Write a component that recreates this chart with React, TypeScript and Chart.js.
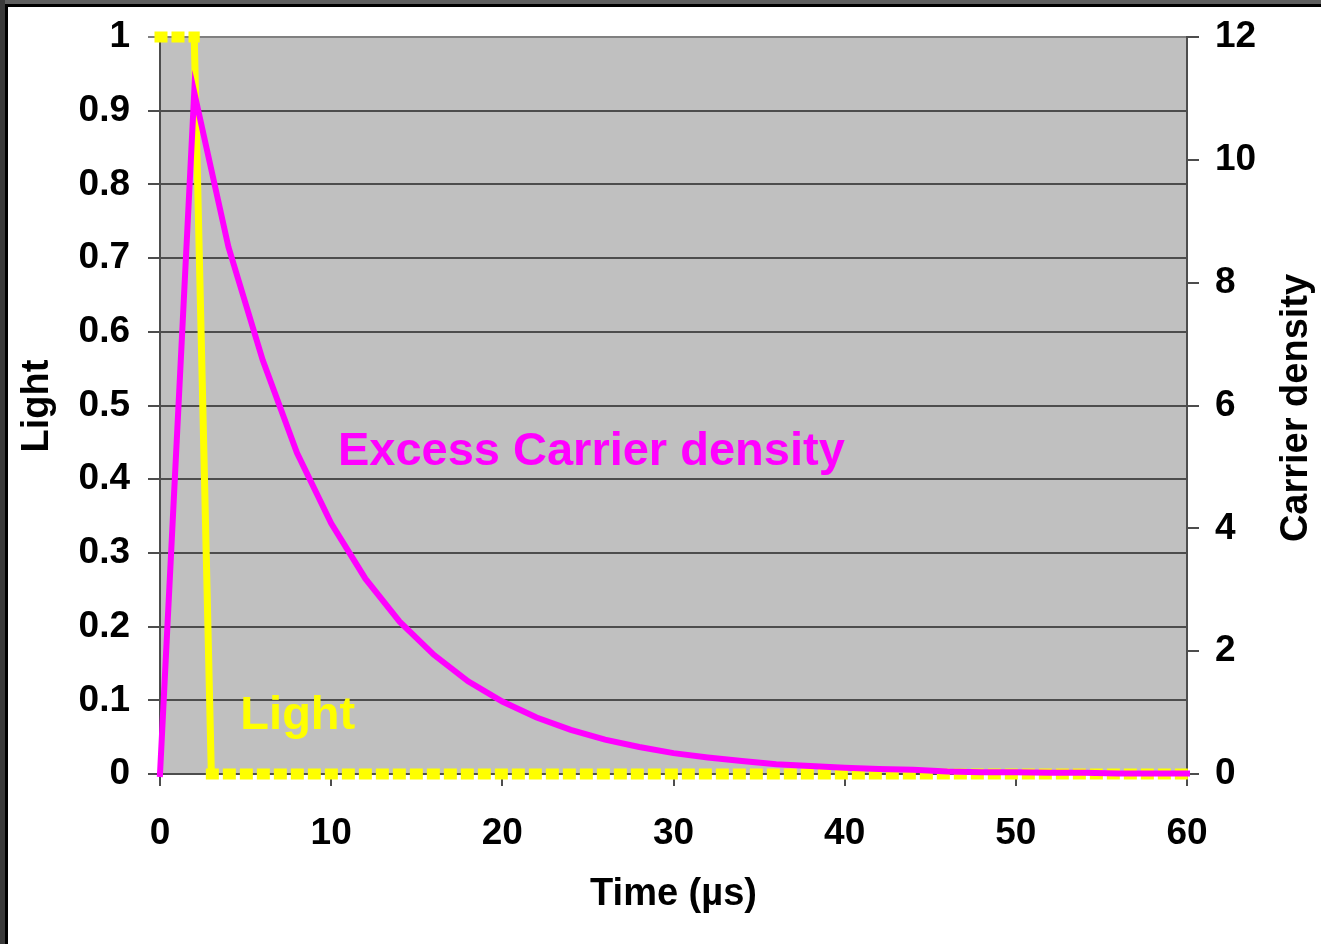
import React, { useEffect, useRef } from "react";
import { Chart, registerables } from "chart.js";

Chart.register(...registerables);

// ---- data ----
const carrierTime = [0, 2, 4, 6, 8, 10, 12, 14, 16, 18, 20, 22, 24, 26, 28, 30, 32, 34, 36, 38, 40, 42, 44, 46, 48, 50, 52, 54, 56, 58, 60];
const carrierDensity = [0, 11.1, 8.58, 6.74, 5.23, 4.08, 3.18, 2.48, 1.94, 1.51, 1.18, 0.92, 0.72, 0.56, 0.44, 0.34, 0.27, 0.21, 0.16, 0.13, 0.1, 0.08, 0.07, 0.04, 0.03, 0.03, 0.02, 0.02, 0.01, 0.01, 0.01];
const lightTime = [0, 2, 3, 60];
const lightValue = [1, 1, 0, 0];

const xTitle = "Time (\u00b5s)";
const leftTitle = "Light";
const rightTitle = "Carrier density";
const carrierLabel = "Excess Carrier density";
const lightLabel = "Light";

const FONT = "'Liberation Sans', Arial, sans-serif";
const MAGENTA = "#FF00FF";
const YELLOW = "#FFFF00";
const GRID = "#4d4d4d";
const TICK_SIZE = 37;

const decorPlugin = {
  id: "decor",
  beforeDraw(chart: any) {
    const { ctx, chartArea } = chart;
    ctx.save();
    ctx.fillStyle = "#ffffff";
    ctx.fillRect(0, 0, chart.width, chart.height);
    // frame
    ctx.fillStyle = "#5f5f5f";
    ctx.fillRect(0, 0, chart.width, 4);
    ctx.fillStyle = "#000000";
    ctx.fillRect(0, 4, chart.width, 3);
    ctx.fillStyle = "#3a3a3a";
    ctx.fillRect(0, 0, 5, chart.height);
    ctx.fillStyle = "#000000";
    ctx.fillRect(5, 4, 3, chart.height - 4);
    // plot background
    ctx.fillStyle = "#C0C0C0";
    ctx.fillRect(chartArea.left, chartArea.top, chartArea.right - chartArea.left, chartArea.bottom - chartArea.top);
    ctx.restore();
  },
  afterDraw(chart: any) {
    const { ctx, chartArea } = chart;
    ctx.save();
    ctx.textAlign = "center";
    ctx.textBaseline = "middle";
    ctx.fillStyle = "#000";
    ctx.font = `bold 38px ${FONT}`;
    ctx.fillText(xTitle, (chartArea.left + chartArea.right) / 2, 895);
    ctx.save();
    ctx.translate(38, 406);
    ctx.rotate(-Math.PI / 2);
    ctx.fillText(leftTitle, 0, 0);
    ctx.restore();
    ctx.save();
    ctx.translate(1297, 408);
    ctx.rotate(-Math.PI / 2);
    ctx.fillText(rightTitle, 0, 0);
    ctx.restore();
    // in-plot labels
    const x = chart.scales.x;
    const yL = chart.scales.y;
    const yR = chart.scales.y2;
    ctx.font = `bold 47px ${FONT}`;
    ctx.fillStyle = MAGENTA;
    ctx.fillText(carrierLabel, x.getPixelForValue(25.2), yR.getPixelForValue(5.25));
    ctx.fillStyle = YELLOW;
    ctx.fillText(lightLabel, x.getPixelForValue(8.05), yL.getPixelForValue(0.078));
    ctx.restore();
  },
};

export default function App() {
  const ref = useRef<HTMLCanvasElement>(null);
  useEffect(() => {
    if (!ref.current) return;
    const isFlat = (c: any) => c.p0.parsed.y === c.p1.parsed.y;
    const chart = new Chart(ref.current, {
      type: "line",
      data: {
        datasets: [
          {
            label: "Carrier density",
            data: carrierTime.map((t, i) => ({ x: t, y: carrierDensity[i] })),
            yAxisID: "y2",
            borderColor: MAGENTA,
            borderWidth: 6,
            pointRadius: 0,
            tension: 0,
            borderCapStyle: "square",
            clip: false,
          },
          {
            label: "Light",
            data: lightTime.map((t, i) => ({ x: t, y: lightValue[i] })),
            yAxisID: "y",
            borderColor: YELLOW,
            borderWidth: 11,
            borderCapStyle: "square",
            pointRadius: 0,
            tension: 0,
            clip: false,
            segment: {
              borderDash: (c: any) => (isFlat(c) ? [2, 15] : []),
              borderCapStyle: (c: any) => (isFlat(c) ? "square" : "butt"),
              borderWidth: (c: any) => (isFlat(c) ? 11 : 7),
            },
          },
        ],
      },
      options: {
        animation: false,
        responsive: false,
        devicePixelRatio: 1,
        layout: { padding: { top: 37, left: 0, right: 0, bottom: 0 } },
        plugins: { legend: { display: false }, tooltip: { enabled: false } },
        scales: {
          x: {
            type: "linear",
            min: 0,
            max: 60,
            ticks: { stepSize: 10, color: "#000", font: { family: FONT, size: TICK_SIZE, weight: "bold" }, padding: 26 },
            grid: { drawOnChartArea: false, drawTicks: true, tickLength: 12, color: GRID, lineWidth: 2 },
            border: { display: false },
            afterFit: (s: any) => { s.height = 170; s.paddingLeft = 0; s.paddingRight = 0; },
          },
          y: {
            position: "left",
            min: 0,
            max: 1,
            ticks: {
              stepSize: 0.1,
              color: "#000",
              font: { family: FONT, size: TICK_SIZE, weight: "bold" },
              padding: 18,
              callback: (v: any) => String(Number(Number(v).toFixed(1))),
            },
            grid: {
              color: (c: any) => (c.tick && c.tick.value === 1 ? "#808080" : GRID),
              lineWidth: 2,
              tickLength: 12,
            },
            border: { color: GRID, width: 2 },
            afterFit: (s: any) => { s.width = 160; s.paddingTop = 0; s.paddingBottom = 0; },
          },
          y2: {
            position: "right",
            min: 0,
            max: 12,
            ticks: { stepSize: 2, color: "#000", font: { family: FONT, size: TICK_SIZE, weight: "bold" }, padding: 16 },
            grid: { drawOnChartArea: false, tickLength: 12, color: GRID, lineWidth: 2 },
            border: { color: GRID, width: 2 },
            afterFit: (s: any) => { s.width = 134; s.paddingTop = 0; s.paddingBottom = 0; },
          },
        },
      },
      plugins: [decorPlugin],
    } as any);
    return () => chart.destroy();
  }, []);
  return (
    <div style={{ position: "absolute", left: 0, top: 0, width: 1321, height: 944 }}>
      <canvas ref={ref} width={1321} height={944} style={{ display: "block" }} />
    </div>
  );
}
